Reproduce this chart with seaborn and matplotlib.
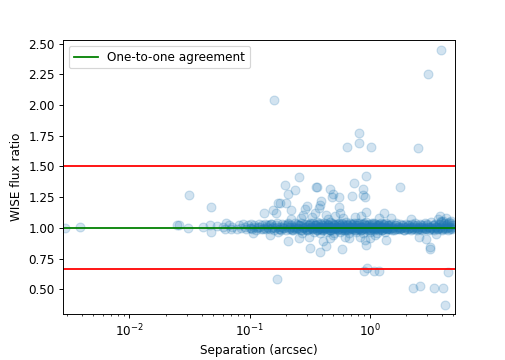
import matplotlib
matplotlib.use("Agg")
import matplotlib.pyplot as plt
import seaborn as sns
import pandas as pd
from matplotlib.ticker import FormatStrFormatter

# ---- data ----
sep_band_a = [
    0.072, 0.078, 0.081, 0.085, 0.088, 0.091, 0.094, 0.097, 0.1, 0.102,
    0.105, 0.108, 0.11, 0.113, 0.116, 0.119, 0.122, 0.125, 0.128, 0.131,
    0.134, 0.137, 0.14, 0.143, 0.146, 0.149, 0.152, 0.156, 0.16, 0.163,
    0.167, 0.171, 0.175, 0.179, 0.183, 0.187, 0.191, 0.195, 0.2, 0.204,
    0.208, 0.213, 0.218, 0.222, 0.227, 0.232, 0.237, 0.242, 0.247, 0.252,
    0.258, 0.263, 0.269, 0.275, 0.281, 0.287, 0.293, 0.3, 0.306, 0.313,
    0.32, 0.327, 0.334, 0.341, 0.349, 0.356, 0.364, 0.372, 0.38, 0.388,
    0.397, 0.405, 0.414, 0.423, 0.432, 0.442, 0.451, 0.461, 0.471, 0.482,
    0.492, 0.503, 0.514, 0.525, 0.537, 0.548, 0.56, 0.573, 0.585, 0.598,
    0.611, 0.624, 0.638, 0.652, 0.666, 0.681, 0.696, 0.711, 0.727, 0.742,
    0.759, 0.775, 0.792, 0.81, 0.827, 0.845, 0.864, 0.883, 0.902, 0.922,
    0.942, 0.963, 0.984, 1.005, 1.027, 1.05, 1.073, 1.096, 1.12, 1.145,
    1.17, 1.195, 1.222, 1.248, 1.276, 1.304, 1.332, 1.361, 1.391, 1.422,
    1.453, 1.485, 1.517, 1.55, 1.584, 1.619, 1.655, 1.691, 1.728, 1.766,
    1.804, 1.844, 1.884, 1.926, 1.968, 2.011, 2.055, 2.1, 2.146, 2.193,
    2.241, 2.29, 2.34, 2.392, 2.444, 2.498, 2.552, 2.608, 2.665, 2.724,
    2.783, 2.844, 2.907, 2.97, 3.035, 3.102, 3.17, 3.239, 3.31, 3.383,
    3.457, 3.532, 3.61, 3.689, 3.77, 3.852, 3.937, 4.023, 4.111, 4.2,
    4.29, 4.39, 4.48, 4.58, 4.68, 4.78, 4.9, 5.0,
]
ratio_band_a = [
    1.01, 0.99, 1.02, 1.00, 1.03, 1.01, 0.99, 1.02, 1.00, 1.03,
    0.99, 1.01, 1.02, 0.98, 1.00, 1.03, 1.01, 0.99, 1.02, 1.00,
    1.03, 0.99, 1.01, 1.00, 1.02, 0.99, 1.03, 1.01, 0.98, 1.00,
    1.02, 1.04, 0.99, 1.01, 0.98, 1.03, 1.00, 1.02, 0.98, 1.01,
    1.03, 0.99, 1.00, 1.02, 0.98, 1.01, 1.04, 0.99, 1.03, 1.00,
    0.99, 1.02, 1.04, 0.98, 1.01, 1.00, 1.03, 0.98, 1.02, 0.99,
    1.03, 1.01, 0.99, 1.04, 1.00, 1.02, 0.98, 1.03, 0.99, 1.04,
    1.01, 0.98, 1.02, 1.00, 1.03, 0.99, 1.03, 1.01, 0.98, 1.04,
    1.00, 1.02, 0.99, 1.03, 1.01, 0.98, 1.03, 0.99, 1.04, 1.00,
    1.02, 0.98, 1.01, 1.03, 0.99, 1.04, 1.00, 0.99, 1.03, 1.01,
    0.98, 1.02, 1.04, 0.99, 1.01, 0.98, 1.03, 1.00, 1.04, 0.99,
    1.02, 1.00, 1.03, 0.98, 1.01, 1.03, 0.99, 1.04, 1.00, 0.99,
    1.02, 1.03, 0.99, 1.01, 0.98, 1.03, 1.00, 1.04, 0.99, 1.02,
    1.01, 0.99, 1.03, 1.00, 0.98, 1.02, 1.04, 0.99, 1.01, 0.99,
    1.03, 1.00, 1.02, 0.98, 1.01, 1.03, 0.99, 1.02, 1.00, 0.98,
    1.03, 1.01, 0.99, 1.04, 1.00, 1.02, 0.99, 1.03, 1.01, 0.98,
    1.02, 1.00, 1.04, 0.99, 1.03, 1.01, 0.99, 1.05, 1.00, 1.02,
    0.98, 1.03, 1.01, 0.99, 1.03, 1.00, 1.06, 0.99, 1.02, 1.04,
    1.00, 1.03, 0.98, 1.05, 1.01, 1.04, 0.99, 1.02,
]

sep_band_b = [
    0.103, 0.118, 0.129, 0.141, 0.155, 0.168, 0.181, 0.193, 0.206, 0.216,
    0.225, 0.235, 0.245, 0.255, 0.266, 0.278, 0.29, 0.297, 0.31, 0.317,
    0.324, 0.338, 0.345, 0.352, 0.36, 0.368, 0.376, 0.384, 0.393, 0.401,
    0.41, 0.419, 0.428, 0.437, 0.447, 0.456, 0.466, 0.476, 0.487, 0.497,
    0.508, 0.52, 0.531, 0.543, 0.554, 0.566, 0.579, 0.591, 0.604, 0.617,
    0.631, 0.645, 0.659, 0.673, 0.688, 0.703, 0.719, 0.734, 0.75, 0.767,
    0.784, 0.801, 0.818, 0.836, 0.855, 0.873, 0.893, 0.912, 0.932, 0.953,
    0.974, 0.995, 1.016, 1.038, 1.061, 1.084, 1.108, 1.132, 1.157, 1.182,
    1.208, 1.235, 1.262, 1.29, 1.318, 1.347, 1.376, 1.406, 1.437, 1.469,
    1.501, 1.534, 1.567, 1.601, 1.637, 1.673, 1.709, 1.747, 1.785, 1.824,
    1.864, 1.905, 1.947, 1.99, 2.033, 2.078, 2.123, 2.17, 2.217, 2.266,
    2.315, 2.366, 2.418, 2.471, 2.525, 2.58, 2.636, 2.694, 2.753, 2.813,
    2.875, 2.938, 3.0, 3.07, 3.14, 3.2, 3.27, 3.35, 3.42, 3.5,
    3.57, 3.65, 3.73, 3.81, 3.89, 3.98, 4.07, 4.15, 4.25, 4.34,
    4.44, 4.54, 4.64, 4.74, 4.85, 4.95,
]
ratio_band_b = [
    1.00, 1.01, 0.99, 1.02, 1.00, 1.01, 0.99, 1.00, 1.02, 1.01,
    0.99, 1.00, 1.01, 1.02, 0.98, 1.00, 1.01, 0.99, 1.02, 1.00,
    1.01, 0.99, 1.00, 1.02, 1.01, 0.98, 1.00, 1.01, 0.99, 1.02,
    1.00, 1.01, 0.99, 1.00, 1.02, 1.01, 0.98, 1.00, 1.01, 0.99,
    1.02, 1.00, 1.01, 0.99, 1.00, 1.02, 1.01, 0.98, 1.00, 1.01,
    0.99, 1.02, 1.00, 1.01, 0.99, 1.00, 1.02, 1.01, 0.98, 1.00,
    1.01, 0.99, 1.02, 1.00, 1.01, 0.99, 1.00, 1.02, 1.01, 0.98,
    1.00, 1.01, 0.99, 1.02, 1.00, 1.01, 0.99, 1.00, 1.02, 1.01,
    0.98, 1.00, 1.01, 0.99, 1.02, 1.00, 1.01, 0.99, 1.00, 1.02,
    1.01, 0.98, 1.00, 1.01, 0.99, 1.02, 1.00, 1.01, 0.99, 1.00,
    1.02, 1.01, 0.98, 1.00, 1.01, 0.99, 1.02, 1.00, 1.01, 0.99,
    1.00, 1.02, 1.01, 0.98, 1.00, 1.01, 0.99, 1.02, 1.00, 1.01,
    0.99, 1.00, 1.02, 1.01, 0.98, 1.00, 1.01, 0.99, 1.02, 1.00,
    1.01, 0.99, 1.00, 1.02, 1.01, 0.98, 1.00, 1.01, 0.99, 1.02,
    1.00, 1.01, 0.99, 1.00, 1.02, 1.01,
]

sep_band_c = [
    0.152, 0.172, 0.188, 0.211, 0.229, 0.249, 0.26, 0.272, 0.284, 0.296,
    0.303, 0.316, 0.33, 0.344, 0.353, 0.362, 0.37, 0.378, 0.386, 0.395,
    0.403, 0.412, 0.421, 0.43, 0.44, 0.449, 0.458, 0.468, 0.478, 0.489,
    0.5, 0.51, 0.522, 0.534, 0.546, 0.558, 0.57, 0.582, 0.595, 0.608,
    0.621, 0.635, 0.649, 0.663, 0.677, 0.692, 0.707, 0.723, 0.738, 0.755,
    0.771, 0.788, 0.806, 0.823, 0.841, 0.86, 0.879, 0.898, 0.918, 0.938,
    0.958, 0.979, 1.0, 1.022, 1.044, 1.067, 1.091, 1.115, 1.139, 1.164,
    1.19, 1.216, 1.243, 1.27, 1.298, 1.327, 1.356, 1.386, 1.416, 1.447,
]
ratio_band_c = [
    1.03, 0.97, 1.01, 1.04, 0.98, 1.00, 1.02, 0.96, 1.03, 1.01,
    0.98, 1.04, 1.00, 0.97, 1.02, 1.05, 0.99, 1.01, 0.96, 1.03,
    1.00, 0.98, 1.04, 1.01, 0.97, 1.02, 1.00, 1.05, 0.98, 1.01,
    1.03, 0.96, 1.00, 1.02, 0.99, 1.04, 0.97, 1.01, 1.03, 0.98,
    1.00, 1.05, 0.98, 1.02, 0.96, 1.01, 1.03, 0.99, 1.04, 1.00,
    0.97, 1.02, 1.00, 1.04, 0.98, 1.01, 0.96, 1.03, 1.00, 1.05,
    0.99, 1.02, 0.97, 1.01, 1.04, 1.00, 0.98, 1.03, 1.01, 0.96,
    1.02, 1.00, 1.04, 0.98, 1.01, 1.03, 0.97, 1.00, 1.02, 0.99,
]

sep_sparse = [
    0.0029, 0.0039, 0.0249, 0.026, 0.031, 0.0316, 0.041, 0.047, 0.0474, 0.048,
    0.054, 0.06, 0.064, 0.062, 0.068, 0.07,
    0.106, 0.133, 0.147, 0.157, 0.159, 0.167, 0.169, 0.173, 0.178, 0.196,
    0.202, 0.209, 0.209, 0.222, 0.24, 0.257, 0.26, 0.279, 0.303, 0.316,
    0.348, 0.359, 0.367, 0.383, 0.383, 0.396, 0.41, 0.43, 0.435, 0.464,
    0.47, 0.49, 0.495, 0.555, 0.562, 0.59, 0.619, 0.643, 0.708, 0.74,
    0.81, 0.82, 0.825, 0.88, 0.88, 0.896, 0.91, 0.91, 0.926, 0.926,
    0.94, 0.957, 1.0, 1.025, 1.086, 1.195, 1.33, 1.36, 1.79, 2.31,
    2.55, 2.63, 2.97, 3.04, 3.16, 3.18, 3.41, 3.83, 3.9, 4.06,
    4.24, 4.47, 4.47,
    0.27, 0.33, 0.45, 0.52, 0.6, 0.75, 0.31, 0.5, 0.68, 1.5,
    2.2, 1.1, 0.22, 3.6, 4.8, 0.38, 0.56, 0.29, 0.85, 1.2, 2.6,
    3.75, 4.1, 4.3, 3.95,
]
ratio_sparse = [
    1.00, 1.01, 1.02, 1.025, 1.00, 1.27, 1.01, 1.02, 0.965, 1.17,
    1.015, 1.01, 1.04, 0.99, 1.02, 0.99,
    0.96, 1.12, 0.943, 1.146, 2.04, 1.12, 0.585, 1.205, 1.2, 1.352,
    1.2, 1.28, 0.89, 1.146, 1.31, 1.417, 0.916, 1.106, 1.18, 0.84,
    1.124, 1.33, 1.333, 1.185, 0.80, 1.22, 0.89, 0.854, 1.106, 0.916,
    1.32, 1.255, 1.28, 1.255, 1.124, 0.827, 0.93, 1.66, 1.26, 1.363,
    1.69, 1.77, 0.93, 1.32, 1.27, 0.653, 1.255, 0.90, 1.425, 1.133,
    0.86, 0.677, 0.916, 1.66, 0.65, 0.65, 1.12, 0.90, 1.336, 0.515,
    1.65, 0.53, 0.908, 2.25, 0.83, 0.848, 0.51, 1.10, 2.447, 0.51,
    0.37, 0.645, 1.04,
    1.08, 1.09, 1.07, 1.10, 1.08, 1.09, 0.93, 0.94, 0.92, 1.08,
    1.07, 0.94, 1.07, 0.95, 1.06, 1.16, 1.17, 1.15, 1.10, 1.08, 0.93,
    1.07, 1.06, 1.08, 1.05,
]

ytick_values = [0.50, 0.75, 1.00, 1.25, 1.50, 1.75, 2.00, 2.25, 2.50]
upper_limit = 1.5
lower_limit = 1 / 1.5
one_to_one = 1.0

# ---- build table ----
pairs = (list(zip(sep_band_a, ratio_band_a)) + list(zip(sep_band_b, ratio_band_b))
         + list(zip(sep_band_c, ratio_band_c)) + list(zip(sep_sparse, ratio_sparse)))
df = pd.DataFrame(pairs, columns=["sep", "ratio"])

DPI = 86
fig, ax = plt.subplots(figsize=(505 / DPI, 360 / DPI), dpi=DPI)
fig.subplots_adjust(left=0.125, right=0.9, top=0.889, bottom=0.128)
sns.scatterplot(data=df, x="sep", y="ratio", ax=ax, s=55, alpha=0.2,
                color="#1f77b4", edgecolor="#1f77b4", linewidth=1)
ax.set_xscale("log")
ax.axhline(upper_limit, color="red", lw=1.5)
ax.axhline(lower_limit, color="red", lw=1.5)
ax.axhline(one_to_one, color="green", lw=1.5, label="One-to-one agreement")

ax.set_xlim(0.0028, 5.1)
ax.set_ylim(0.3, 2.53)
ax.set_yticks(ytick_values)
ax.yaxis.set_major_formatter(FormatStrFormatter("%.2f"))
ax.set_xlabel("Separation (arcsec)")
ax.set_ylabel("WISE flux ratio")
ax.legend(loc="upper left")

fig.savefig("out.png", dpi=DPI)
